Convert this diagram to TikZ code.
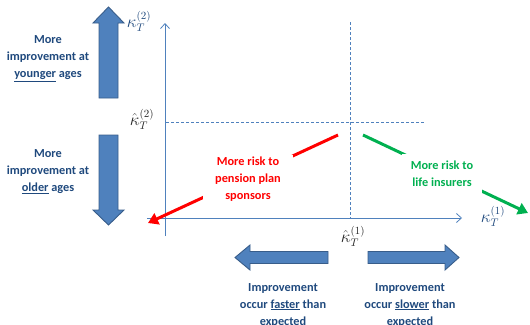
\documentclass[tikz,border=0pt]{standalone}
\usepackage{fontspec}
\setmainfont{Carlito}
\usetikzlibrary{arrows.meta}
\definecolor{axisblue}{HTML}{4F81BD}
\definecolor{blockfill}{HTML}{4F81BD}
\definecolor{blockline}{HTML}{385D8A}
\definecolor{txtblue}{HTML}{1F497D}
\definecolor{riskred}{HTML}{FF0000}
\definecolor{riskgreen}{HTML}{00B050}
\tikzset{
  lbl/.style={font=\fontsize{12.3}{17}\selectfont\bfseries, align=center, inner sep=0pt},
  bluelbl/.style={lbl, text=txtblue},
  block/.style={fill=blockfill, draw=blockline, line width=0.9pt, line join=miter},
  axisline/.style={draw=axisblue, line width=0.8pt, -{Straight Barb[length=5pt,width=9pt]}},
  guide/.style={draw=axisblue, line width=0.7pt, dash pattern=on 3pt off 2pt},
  riskarrow/.style={line width=3pt, -{Triangle[length=10pt,width=12pt]}},
  riskbox/.style={lbl, fill=white, minimum width=90pt, minimum height=48pt},
  mathlbl/.style={font=\fontsize{16}{18}\selectfont, inner sep=0pt}
}
\begin{document}
\begin{tikzpicture}[x=1pt,y=-1pt]
\useasboundingbox (0,0) rectangle (530,324);

% axes
\coordinate (yb) at (165,236);
\coordinate (yt) at (165,23);
\coordinate (xl) at (147,218);
\coordinate (xr) at (462,218);
\draw[axisline] (yb) -- (yt);
\draw[axisline] (xl) -- (xr);

% dashed guides
\coordinate (hl) at (166,122);
\coordinate (hr) at (425,122);
\coordinate (vt) at (350,22);
\coordinate (vb) at (350,218);
\draw[guide] (hl) -- (hr);
\draw[guide] (vt) -- (vb);

% math labels
\node[mathlbl, text=txtblue] (k2) at (139,21) {$\kappa_T^{(2)}$};
\node[mathlbl, text=black!85] (k2h) at (142,119) {$\hat\kappa_T^{(2)}$};
\node[mathlbl, text=txtblue] (k1) at (493,216) {$\kappa_T^{(1)}$};
\node[mathlbl, text=black!85] (k1h) at (353,236) {$\hat\kappa_T^{(1)}$};

% risk arrows
\coordinate (rs) at (338,135);
\coordinate (re) at (148,223);
\coordinate (gs) at (363,135);
\coordinate (ge) at (528,213);
\draw[riskarrow, riskred] (rs) -- (re);
\draw[riskarrow, riskgreen] (gs) -- (ge);
\node[riskbox, text=riskred] (rtxt) at (248,179) {More risk to\\pension plan\\sponsors};
\node[riskbox, text=riskgreen, minimum width=80pt, minimum height=40pt] (gtxt) at (442,174) {More risk to\\life insurers};

% block arrows
\draw[block] (99,98) -- (99,23) -- (93,23) -- (108.5,7) -- (124,23) -- (118,23) -- (118,98) -- cycle;
\draw[block] (99,135) -- (99,210) -- (93,210) -- (108.5,225) -- (124,210) -- (118,210) -- (118,135) -- cycle;
\draw[block] (328,251.5) -- (250,251.5) -- (250,245) -- (235,257.5) -- (250,270) -- (250,263.5) -- (328,263.5) -- cycle;
\draw[block] (368,251.5) -- (445,251.5) -- (445,245) -- (459,257.5) -- (445,270) -- (445,263.5) -- (368,263.5) -- cycle;

% blue labels
\node[bluelbl] (young) at (48,58.5) {More\\improvement at\\\underline{younger} ages};
\node[bluelbl] (old) at (48,171.5) {More\\improvement at\\\underline{older} ages};
\node[bluelbl] (fast) at (283,305) {Improvement\\occur \underline{faster} than\\expected};
\node[bluelbl] (slow) at (410,305) {Improvement\\occur \underline{slower} than\\expected};
\end{tikzpicture}
\end{document}
